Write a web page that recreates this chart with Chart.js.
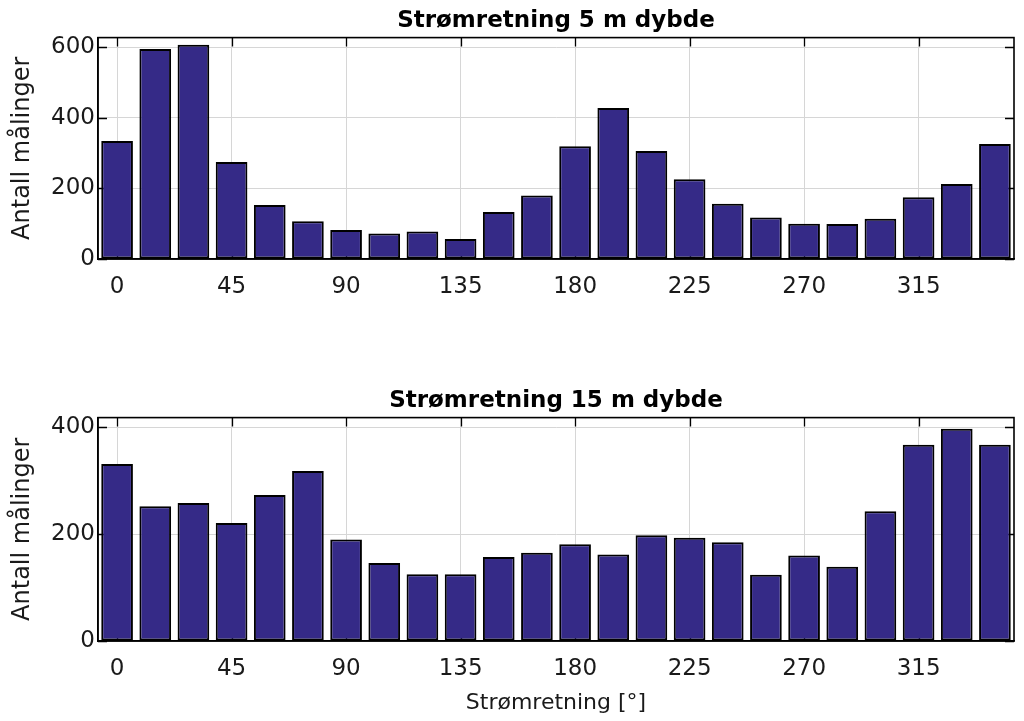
<!DOCTYPE html>
<html lang="no">
<head>
<meta charset="UTF-8">
<title>Strømretning</title>
<script src="https://cdn.jsdelivr.net/npm/chart.js"></script>
<style>
  body { margin: 0; background: #fff; }
  canvas { position: absolute; left: 0; }
  #top { top: 0; }
  #bottom { top: 380px; }
</style>
</head>
<body>
<canvas id="top" width="1024" height="310"></canvas>
<canvas id="bottom" width="1024" height="341"></canvas>
<script>
  // retning (grader) og antall målinger
  const directions = [0, 15, 30, 45, 60, 75, 90, 105, 120, 135, 150, 165,
                      180, 195, 210, 225, 240, 255, 270, 285, 300, 315, 330, 345];
  const counts5m = [335, 596, 608, 275, 153, 107, 82, 72, 78, 57, 133, 180,
                    320, 428, 306, 226, 157, 118, 100, 99, 114, 175, 213, 326];
  const counts15m = [331, 252, 258, 221, 273, 318, 190, 146, 125, 125, 157, 165,
                     181, 162, 198, 193, 185, 124, 160, 139, 243, 367, 397, 367];
  const xTicks = [0, 45, 90, 135, 180, 225, 270, 315];
  const yTicks5m = [0, 200, 400, 600];
  const yTicks15m = [0, 200, 400];

  const FONT = "'DejaVu Sans', sans-serif";
  const TXT = '#1a1a1a';

  // ramme + tickmerker inni aksene (matlab-stil)
  const boxPlugin = {
    id: 'box',
    beforeDatasetsDraw(chart) {
      const {ctx, chartArea: a, scales} = chart;
      ctx.save();
      ctx.strokeStyle = '#000';
      ctx.lineWidth = 1.3;
      ctx.beginPath();
      xTicks.forEach(v => {
        const px = Math.round(scales.x.getPixelForValue(v)) + 0.5;
        ctx.moveTo(px, a.top); ctx.lineTo(px, a.top + 9);
        ctx.moveTo(px, a.bottom); ctx.lineTo(px, a.bottom - 9);
      });
      scales.y.ticks.forEach(t => {
        const py = Math.round(scales.y.getPixelForValue(t.value)) + 0.5;
        ctx.moveTo(a.left, py); ctx.lineTo(a.left + 9, py);
        ctx.moveTo(a.right, py); ctx.lineTo(a.right - 9, py);
      });
      ctx.stroke();
      ctx.restore();
    },
    afterDraw(chart) {
      const {ctx, chartArea: a} = chart;
      ctx.save();
      ctx.strokeStyle = '#000';
      ctx.lineWidth = 1.6;
      ctx.strokeRect(a.left, a.top, a.right - a.left, a.bottom - a.top);
      ctx.restore();
    }
  };

  function makeChart(id, title, values, yMax, yTicks, xTitle, xHeight) {
    const ctx = document.getElementById(id).getContext('2d');
    return new Chart(ctx, {
      type: 'bar',
      data: {
        datasets: [{
          data: directions.map((d, i) => ({x: d, y: values[i]})),
          backgroundColor: '#352a87',
          borderColor: '#000',
          borderWidth: 2,
          borderSkipped: false,
          categoryPercentage: 1,
          barPercentage: 0.83
        }]
      },
      options: {
        responsive: false,
        animation: false,
        devicePixelRatio: 1,
        layout: { padding: { left: 0, right: 10, top: 0, bottom: 0 } },
        plugins: {
          legend: { display: false },
          tooltip: { enabled: false },
          title: {
            display: true,
            text: title,
            fullSize: false,
            color: '#000',
            font: { family: FONT, size: 23, weight: 'bold' },
            padding: { top: 7, bottom: 3 }
          }
        },
        scales: {
          x: {
            type: 'linear',
            offset: false,
            min: -7.5,
            max: 352.5,
            afterBuildTicks: s => { s.ticks = xTicks.map(v => ({value: v})); },
            afterFit: s => { s.height = xHeight; },
            grid: { color: '#d6d6d6', lineWidth: 1, drawTicks: false, offset: false },
            border: { color: '#000', width: 1.5 },
            ticks: { color: TXT, padding: 14, font: { family: FONT, size: 23 } },
            title: {
              display: !!xTitle,
              text: xTitle,
              color: TXT,
              font: { family: FONT, size: 22 },
              padding: { top: 0, bottom: 5 }
            }
          },
          y: {
            min: 0,
            max: yMax,
            afterBuildTicks: s => { s.ticks = yTicks.map(v => ({value: v})); },
            afterFit: s => { s.width = 98; },
            grid: { color: '#d6d6d6', lineWidth: 1, drawTicks: false },
            border: { color: '#000', width: 1.5 },
            ticks: { color: TXT, padding: 3, font: { family: FONT, size: 23 } },
            title: {
              display: true,
              text: 'Antall målinger',
              color: TXT,
              font: { family: FONT, size: 24 },
              padding: { top: 8, bottom: 0 }
            }
          }
        }
      },
      plugins: [boxPlugin]
    });
  }

  makeChart('top', 'Strømretning 5 m dybde', counts5m, 628, yTicks5m, '', 51);
  makeChart('bottom', 'Strømretning 15 m dybde', counts15m, 418, yTicks15m, 'Strømretning [°]', 80);
</script>
</body>
</html>
